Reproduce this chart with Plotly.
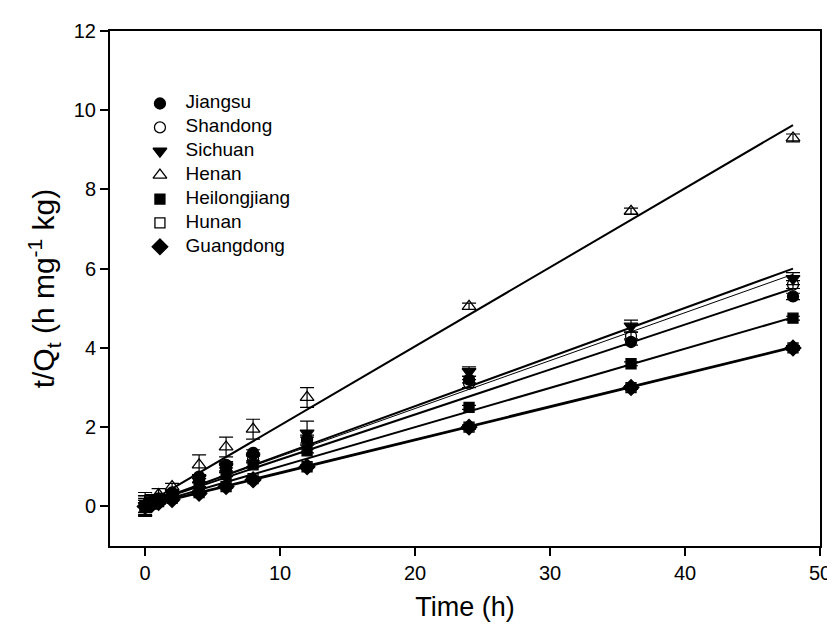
import plotly.graph_objects as go

# ---- data ----
time_h = [0, 0.5, 1, 2, 4, 6, 8, 12, 24, 36, 48]
series_names = ["Jiangsu", "Shandong", "Sichuan", "Henan", "Heilongjiang", "Hunan", "Guangdong"]

jiangsu      = [0.02, 0.12, 0.20, 0.35, 0.75, 1.05, 1.35, 1.70, 3.20, 4.15, 5.30]
shandong     = [0.02, 0.10, 0.18, 0.30, 0.65, 0.95, 1.20, 1.65, 3.10, 4.30, 5.60]
sichuan      = [0.02, 0.12, 0.20, 0.32, 0.70, 1.00, 1.25, 1.85, 3.40, 4.55, 5.75]
henan        = [0.05, 0.15, 0.30, 0.50, 1.05, 1.50, 1.95, 2.75, 5.05, 7.45, 9.30]
heilongjiang = [0.00, 0.08, 0.15, 0.25, 0.55, 0.80, 1.05, 1.40, 2.50, 3.60, 4.75]
hunan        = [0.00, 0.06, 0.12, 0.20, 0.35, 0.50, 0.70, 1.00, 2.00, 3.00, 4.00]
guangdong    = [0.00, 0.05, 0.10, 0.17, 0.33, 0.50, 0.67, 1.00, 2.00, 3.00, 4.00]

err_jiangsu      = [0.25, 0.10, 0.08, 0.05, 0.05, 0.08, 0.08, 0.10, 0.08, 0.08, 0.08]
err_shandong     = [0.25, 0.10, 0.08, 0.05, 0.05, 0.08, 0.08, 0.10, 0.10, 0.10, 0.10]
err_sichuan      = [0.25, 0.12, 0.10, 0.05, 0.08, 0.10, 0.10, 0.30, 0.12, 0.15, 0.15]
err_henan        = [0.30, 0.15, 0.15, 0.08, 0.25, 0.25, 0.25, 0.25, 0.08, 0.08, 0.10]
err_heilongjiang = [0.20, 0.08, 0.06, 0.05, 0.05, 0.05, 0.05, 0.05, 0.05, 0.05, 0.05]
err_hunan        = [0.15, 0.06, 0.05, 0.04, 0.04, 0.04, 0.04, 0.04, 0.05, 0.05, 0.05]
err_guangdong    = [0.15, 0.06, 0.05, 0.04, 0.04, 0.04, 0.04, 0.04, 0.05, 0.05, 0.05]

# linear fits (t/Qt = a + b t)
fit_intercept = [0.05, 0.05, 0.05, 0.05, 0.02, 0.02, 0.00]
fit_slope     = [0.1135, 0.1210, 0.1240, 0.1995, 0.0990, 0.0835, 0.0835]
fit_range     = [0, 48]

# x / y axis ticks
x_ticks = [0, 10, 20, 30, 40, 50]
y_ticks = [0, 2, 4, 6, 8, 10, 12]

# ---- styles / layout constants ----
values = [jiangsu, shandong, sichuan, henan, heilongjiang, hunan, guangdong]
errors = [err_jiangsu, err_shandong, err_sichuan, err_henan, err_heilongjiang, err_hunan, err_guangdong]
symbols = ["circle", "circle-open", "triangle-down", "triangle-up-open", "square", "square-open", "diamond"]
line_widths = [2, 1, 2, 2, 2, 2, 2]
msizes = [11, 11, 12, 12, 10, 10, 12]

# in-plot legend placement (axis units)
LEG_X_MARK = 1.1
LEG_X_TEXT = 3.0
LEG_Y_TOP = 10.17
LEG_DY = 0.603

fig = go.Figure()

# fitted lines
for name, a, b, lw in zip(series_names, fit_intercept, fit_slope, line_widths):
    fig.add_trace(go.Scatter(
        x=fit_range, y=[a + b * fit_range[0], a + b * fit_range[1]],
        mode="lines", line=dict(color="black", width=lw),
        showlegend=False, hoverinfo="skip"))

# data points with error bars
for name, v, e, s, ms in zip(series_names, values, errors, symbols, msizes):
    fig.add_trace(go.Scatter(
        x=time_h, y=v, mode="markers", name=name,
        marker=dict(symbol=s, size=ms, color="black",
                    line=dict(color="black", width=1.3)),
        error_y=dict(type="data", array=e, visible=True, color="black",
                     thickness=1.2, width=7),
        showlegend=False))

# legend drawn inside the axes
leg_y = [LEG_Y_TOP - i * LEG_DY for i in range(len(series_names))]
for name, s, ms, ly in zip(series_names, symbols, msizes, leg_y):
    fig.add_trace(go.Scatter(
        x=[LEG_X_MARK], y=[ly], mode="markers", name=name,
        marker=dict(symbol=s, size=ms, color="black",
                    line=dict(color="black", width=1.3)),
        showlegend=False, hoverinfo="skip"))
fig.add_trace(go.Scatter(
    x=[LEG_X_TEXT] * len(series_names), y=leg_y, mode="text",
    text=series_names, textposition="middle right",
    textfont=dict(size=19, color="black"),
    showlegend=False, hoverinfo="skip"))

fig.update_layout(
    width=835, height=638,
    margin=dict(l=102, r=13, t=20, b=100),
    paper_bgcolor="white", plot_bgcolor="white",
    font=dict(family="Liberation Sans, Arial, sans-serif", color="black"),
    showlegend=False,
    xaxis=dict(range=[-2.6, 50], tickvals=x_ticks, ticks="outside", ticklen=8,
               tickwidth=1.5, tickcolor="black", showline=True, linewidth=2,
               linecolor="black", mirror=True, showgrid=False, zeroline=False,
               tickfont=dict(size=20),
               title=dict(text="Time (h)", font=dict(size=27), standoff=14)),
    yaxis=dict(range=[-1, 12], tickvals=y_ticks, ticks="outside", ticklen=8,
               tickwidth=1.5, tickcolor="black", showline=True, linewidth=2,
               linecolor="black", mirror=True, showgrid=False, zeroline=False,
               tickfont=dict(size=20),
               title=dict(text="t/Q<sub>t</sub> (h mg<sup>-1</sup> kg)",
                          font=dict(size=30), standoff=10)),
)

fig.write_html("out.html")
